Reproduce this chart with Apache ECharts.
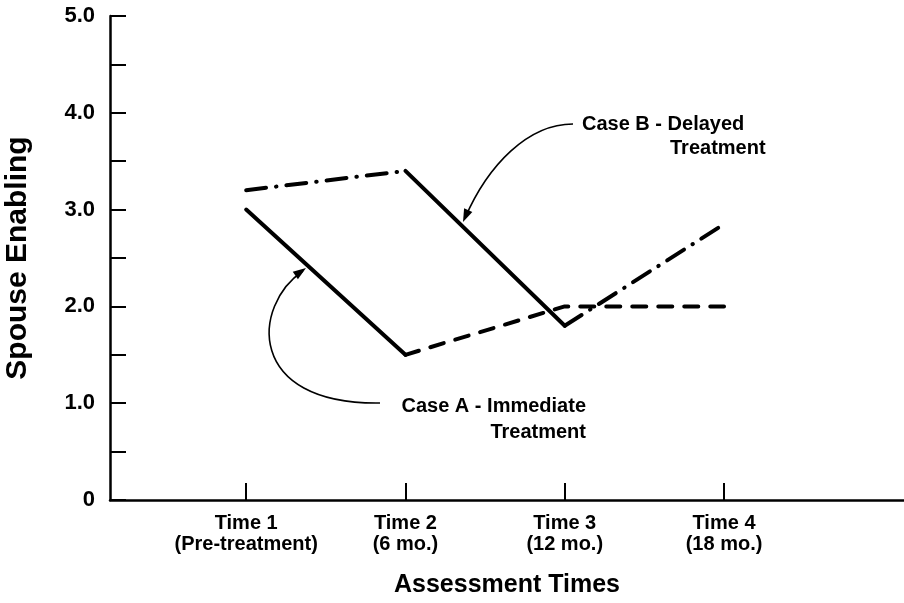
<!DOCTYPE html>
<html>
<head>
<meta charset="utf-8">
<script src="https://cdn.jsdelivr.net/npm/echarts@6/dist/echarts.min.js"></script>
<style>
html,body{margin:0;padding:0;background:#fff;}
#chart{width:904px;height:603px;}
</style>
</head>
<body>
<div id="chart"></div>
<script>
// ---- data ----
const categories = ['Time 1\n(Pre-treatment)', 'Time 2\n(6 mo.)', 'Time 3\n(12 mo.)', 'Time 4\n(18 mo.)'];
const timePositions = [1, 2, 3, 4];
const caseA = [3.0, 1.5, 2.0, 2.0];
const caseB = [3.2, 3.4, 1.8, 2.85];
const caseASegmentStyles = ['solid', 'dashed', 'dashed'];
const caseBSegmentStyles = ['dashdot', 'solid', 'dashdot'];
const yTickValues = [0, 1, 2, 3, 4, 5];
const yTickLabels = ['0', '1.0', '2.0', '3.0', '4.0', '5.0'];
const xAxisTitle = 'Assessment Times';
const yAxisTitle = 'Spouse Enabling';
const caseALabel = ['Case A - Immediate', 'Treatment'];
const caseBLabel = ['Case B - Delayed', 'Treatment'];

// ---- styles ----
const FONT = "'Liberation Sans', Arial, Helvetica, sans-serif";
const dashTypes = {
  solid: 'solid',
  dashed: [14, 12],
  dashdot: [20, 10, 0.5, 10]
};

function buildSeries(name, values, styles) {
  const out = [];
  let i = 0;
  while (i < styles.length) {
    let j = i;
    while (j + 1 < styles.length && styles[j + 1] === styles[i]) j++;
    const data = [];
    for (let k = i; k <= j + 1; k++) data.push([timePositions[k], values[k]]);
    out.push({
      name: name,
      type: 'line',
      data: data,
      symbol: 'none',
      silent: true,
      lineStyle: { color: '#000', width: 4, type: dashTypes[styles[i]], cap: 'round', join: 'round' },
      z: 3
    });
    i = j + 1;
  }
  return out;
}

const series = [].concat(
  buildSeries('Case A', caseA, caseASegmentStyles),
  buildSeries('Case B', caseB, caseBSegmentStyles)
);

function arrowHead(tipX, tipY, dx, dy) {
  const len = Math.hypot(dx, dy);
  const ux = dx / len, uy = dy / len;
  const L = 13, W = 4.5;
  const bx = tipX - ux * L, by = tipY - uy * L;
  return {
    type: 'polygon',
    shape: { points: [[tipX, tipY], [bx - uy * W, by + ux * W], [bx + uy * W, by - ux * W]] },
    style: { fill: '#000' },
    z: 10
  };
}

const textStyleAnn = { fill: '#000', font: 'bold 20px ' + FONT };

const graphic = [
  // Case A arrow
  { type: 'bezierCurve', shape: { x1: 380, y1: 403, cpx1: 245, cpy1: 405, cpx2: 252, cpy2: 305, x2: 303, y2: 271 },
    style: { stroke: '#000', lineWidth: 1.6, fill: null }, z: 10 },
  arrowHead(306, 268, 53, -37),
  // Case B arrow
  { type: 'bezierCurve', shape: { x1: 573, y1: 124, cpx1: 528, cpy1: 124, cpx2: 488, cpy2: 165, x2: 465, y2: 218 },
    style: { stroke: '#000', lineWidth: 1.6, fill: null }, z: 10 },
  arrowHead(463, 222, -25, 57),
  // Case A text
  { type: 'text', x: 586, y: 406, style: Object.assign({ text: caseALabel[0], align: 'right', verticalAlign: 'middle' }, textStyleAnn), z: 10 },
  { type: 'text', x: 586, y: 432, style: Object.assign({ text: caseALabel[1], align: 'right', verticalAlign: 'middle' }, textStyleAnn), z: 10 },
  // Case B text
  { type: 'text', x: 582, y: 124, style: Object.assign({ text: caseBLabel[0], align: 'left', verticalAlign: 'middle' }, textStyleAnn), z: 10 },
  { type: 'text', x: 670, y: 148, style: Object.assign({ text: caseBLabel[1], align: 'left', verticalAlign: 'middle' }, textStyleAnn), z: 10 }
];

const option = {
  backgroundColor: '#fff',
  animation: false,
  grid: { left: 110, right: 0, top: 16, bottom: 103, containLabel: false, outerBoundsMode: 'none' },
  xAxis: {
    type: 'value',
    min: 0.145,
    max: 5.13,
    name: xAxisTitle,
    nameLocation: 'middle',
    nameGap: 73,
    nameTextStyle: { color: '#000', fontSize: 25, fontWeight: 'bold', fontFamily: FONT },
    axisLine: { show: true, lineStyle: { color: '#000', width: 2.5 } },
    axisTick: { show: true, inside: true, length: 17, customValues: timePositions, lineStyle: { color: '#000', width: 2 } },
    axisLabel: {
      show: true,
      customValues: timePositions,
      formatter: function (v) { return categories[Math.round(v) - 1] || ''; },
      color: '#000', fontSize: 20, fontWeight: 'bold', fontFamily: FONT, lineHeight: 21, margin: 13
    },
    splitLine: { show: false }
  },
  yAxis: {
    type: 'value',
    min: 0,
    max: 5,
    interval: 0.5,
    name: yAxisTitle,
    nameLocation: 'middle',
    nameRotate: 90,
    nameGap: 77,
    nameTextStyle: { color: '#000', fontSize: 30, fontWeight: 'bold', fontFamily: FONT },
    axisLine: { show: true, lineStyle: { color: '#000', width: 2.5 } },
    axisTick: { show: true, inside: true, length: 16, lineStyle: { color: '#000', width: 2 } },
    axisLabel: {
      show: true,
      customValues: yTickValues,
      formatter: function (v) { const i = yTickValues.indexOf(Math.round(v)); return i >= 0 ? yTickLabels[i] : ''; },
      color: '#000', fontSize: 22, fontWeight: 'bold', fontFamily: FONT, margin: 15
    },
    splitLine: { show: false }
  },
  series: series,
  graphic: graphic
};

const chart = echarts.init(document.getElementById('chart'), null, { renderer: 'canvas', width: 904, height: 603 });
chart.setOption(option);
</script>
</body>
</html>
